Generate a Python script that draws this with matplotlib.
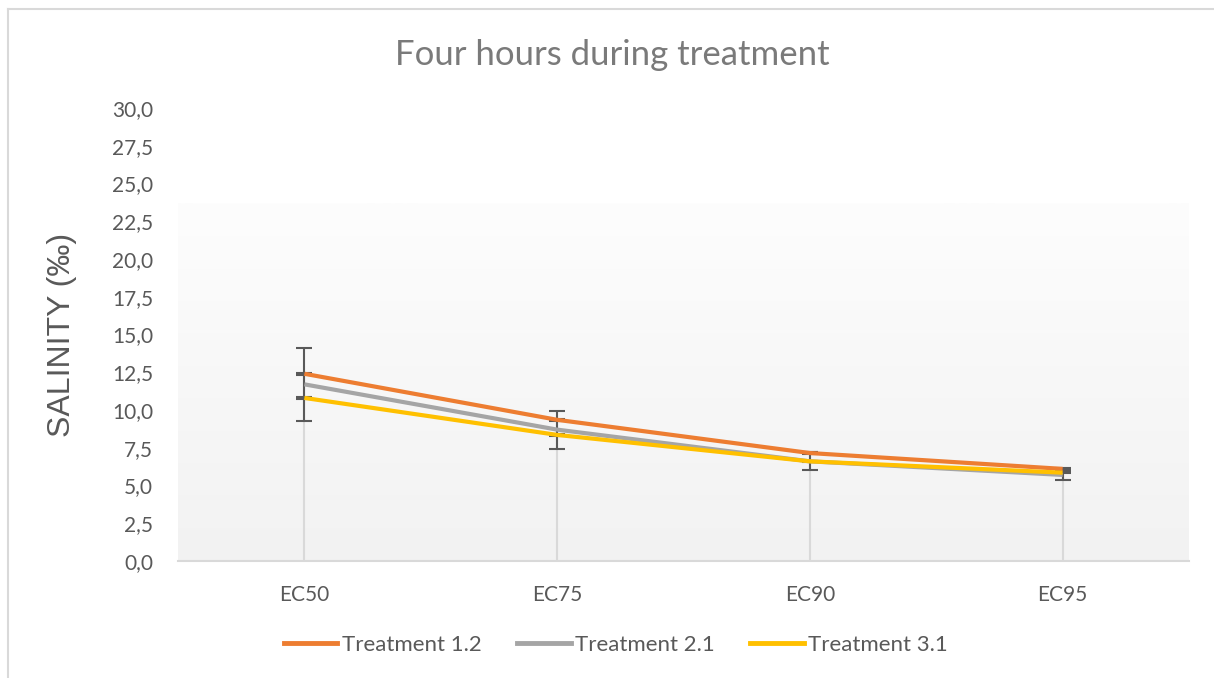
import numpy as np
import matplotlib.pyplot as plt
from matplotlib.lines import Line2D
from matplotlib.colors import LinearSegmentedColormap

plt.rcParams['font.family'] = ['Lato', 'DejaVu Sans']

# data
categories = ["EC50", "EC75", "EC90", "EC95"]
treatment_12 = [12.4, 9.35, 7.15, 6.1]
treatment_21 = [11.7, 8.7, 6.6, 5.7]
treatment_31 = [10.8, 8.35, 6.6, 5.85]
err_12 = [0.05, 0.05, 0.05, 0.05]
err_21 = [2.4, 1.25, 0.6, 0.33]
err_31 = [0.05, 0.05, 0.05, 0.05]
yticks = [0, 2.5, 5, 7.5, 10, 12.5, 15, 17.5, 20, 22.5, 25, 27.5, 30]

series = [
    ("Treatment 1.2", treatment_12, err_12, "#ED7D31"),
    ("Treatment 2.1", treatment_21, err_21, "#A5A5A5"),
    ("Treatment 3.1", treatment_31, err_31, "#FFC000"),
]

fig = plt.figure(figsize=(12.14, 6.78), dpi=100)
ax = fig.add_axes([178 / 1214, 1 - 561 / 678, (1189 - 178) / 1214, (561 - 108) / 678])

x = np.arange(len(categories))

# plot area gradient (white at top to light grey at bottom)
grad = np.linspace(0, 1, 256).reshape(-1, 1)
cmap = LinearSegmentedColormap.from_list("bg", ["#f2f2f2", "#fdfdfd"])
ax.imshow(grad, extent=(-0.5, 3.5, 0, 23.7), origin="lower", cmap=cmap,
          aspect="auto", zorder=0)

# drop lines
tops = np.max([treatment_12, treatment_21, treatment_31], axis=0)
ax.vlines(x, 0, tops, color="#d9d9d9", lw=1.5, zorder=1)

for name, vals, err, col in series:
    ax.errorbar(x, vals, yerr=err, fmt="none", ecolor="#595959", elinewidth=1.5,
                capsize=6, capthick=1.5, zorder=2)
for name, vals, err, col in series:
    ax.plot(x, vals, color=col, lw=3, label=name, zorder=3, solid_capstyle="butt")

ax.set_xlim(-0.5, 3.5)
ax.set_ylim(0, 30)
ax.set_yticks(yticks)
ax.set_yticklabels([f"{t:.1f}".replace(".", ",") for t in yticks])
ax.set_xticks(x)
ax.set_xticklabels(categories)
ax.tick_params(axis="both", length=0, labelsize=15, colors="#595959")
ax.tick_params(axis="y", pad=18)
ax.tick_params(axis="x", pad=17)
for s in ["top", "right", "left"]:
    ax.spines[s].set_visible(False)
ax.spines["bottom"].set_color("#d9d9d9")
ax.spines["bottom"].set_linewidth(1.5)
ax.patch.set_alpha(0)

ax.set_ylabel("SALINITY (‰)", fontsize=23, color="#595959", labelpad=25,
              family=["Liberation Sans", "DejaVu Sans"])
fig.text(612 / 1214, 1 - 55 / 678, "Four hours during treatment", fontsize=25,
         color="#7a7a7a", ha="center", va="center")

handles = [Line2D([0], [0], color=c, lw=3.5) for _, _, _, c in series]
fig.legend(handles, [s[0] for s in series], loc="center", ncol=3,
           bbox_to_anchor=(616 / 1214, 1 - 645 / 678), frameon=False,
           fontsize=16, labelcolor="#595959", handlelength=2.4,
           handletextpad=0.2, columnspacing=1.6)

# chart area border (top and left only visible)
fig.add_artist(Line2D([8 / 1214, 8 / 1214], [0, 1 - 9 / 678], color="#d9d9d9",
                      lw=1.5, transform=fig.transFigure))
fig.add_artist(Line2D([8 / 1214, 1], [1 - 9 / 678, 1 - 9 / 678], color="#d9d9d9",
                      lw=1.5, transform=fig.transFigure))

fig.savefig("out.png", dpi=100, facecolor="white")
